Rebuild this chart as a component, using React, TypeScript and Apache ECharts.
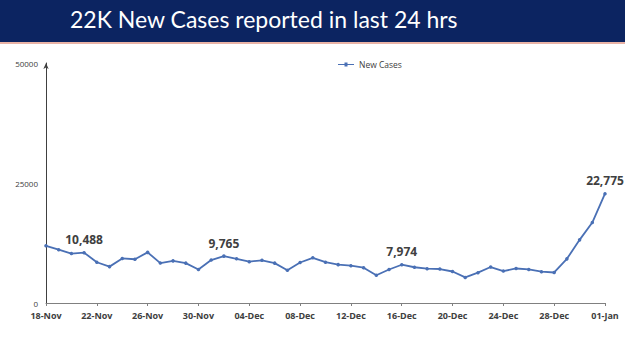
import React, { useEffect, useRef } from "react";
import * as echarts from "echarts";

const categories = [
  "18-Nov","19-Nov","20-Nov","21-Nov","22-Nov","23-Nov","24-Nov","25-Nov","26-Nov","27-Nov","28-Nov","29-Nov","30-Nov",
  "01-Dec","02-Dec","03-Dec","04-Dec","05-Dec","06-Dec","07-Dec","08-Dec","09-Dec","10-Dec","11-Dec","12-Dec","13-Dec",
  "14-Dec","15-Dec","16-Dec","17-Dec","18-Dec","19-Dec","20-Dec","21-Dec","22-Dec","23-Dec","24-Dec","25-Dec","26-Dec",
  "27-Dec","28-Dec","29-Dec","30-Dec","31-Dec","01-Jan",
];

const newCases = [
  11919, 11106, 10302, 10488, 8488, 7579, 9283, 9119, 10549, 8318, 8774, 8309, 6990,
  8954, 9765, 9216, 8603, 8895, 8306, 6822, 8439, 9419, 8503, 7992, 7774, 7350,
  5784, 6984, 7974, 7447, 7145, 7081, 6563, 5326, 6317, 7495, 6650, 7189, 6987,
  6531, 6358, 9195, 13154, 16764, 22775,
];

const labelledDays = ["21-Nov", "02-Dec", "16-Dec", "01-Jan"];

const titleText = "22K New Cases reported in last 24 hrs";
const seriesName = "New Cases";

export default function App() {
  const ref = useRef<HTMLDivElement>(null);

  useEffect(() => {
    document.body.style.margin = "0";
    const chart = echarts.init(ref.current!, undefined, { renderer: "svg" });
    const fmt = (v: number) => v.toLocaleString("en-US");
    chart.setOption({
      animation: false,
      backgroundColor: "#ffffff",
      graphic: [
        { type: "rect", left: 0, top: 0, shape: { width: 625, height: 42 }, style: { fill: "#0c2461" }, z: 10 },
        { type: "rect", left: 0, top: 42, shape: { width: 625, height: 2 }, style: { fill: "#e9b3a6" }, z: 10 },
        {
          type: "text",
          left: 70,
          top: 7,
          z: 11,
          style: { text: titleText, fill: "#ffffff", font: "23px Lato" },
        },
      ],
      legend: {
        data: [seriesName],
        top: 55,
        left: 333,
        itemWidth: 16,
        itemHeight: 4,
        itemGap: 3,
        icon: "path://M0,1.5 L6.5,1.5 L6.5,0 L9.5,0 L9.5,1.5 L16,1.5 L16,2.5 L9.5,2.5 L9.5,4 L6.5,4 L6.5,2.5 L0,2.5 Z",
        textStyle: { fontSize: 8.5, color: "#404040", fontFamily: "Open Sans" },
      },
      grid: { left: 46, right: 20, top: 63, bottom: 48, containLabel: false },
      xAxis: {
        type: "category",
        data: categories,
        boundaryGap: false,
        axisLine: { lineStyle: { color: "#808080", width: 1 } },
        axisTick: { show: true, interval: 3, length: 3, lineStyle: { color: "#808080" } },
        axisLabel: {
          interval: 3,
          color: "#404040",
          fontSize: 9,
          fontWeight: "bold",
          fontFamily: "Open Sans",
          margin: 8,
        },
      },
      yAxis: {
        type: "value",
        min: 0,
        max: 50000,
        interval: 25000,
        splitLine: { show: false },
        axisLine: {
          show: true,
          symbol: ["none", "arrow"],
          symbolSize: [4, 6],
          lineStyle: { color: "#404040", width: 1 },
        },
        axisTick: { show: false },
        axisLabel: {
          color: "#404040",
          fontSize: 8,
          fontFamily: "Open Sans",
          margin: 8,
          formatter: (v: number) => String(v),
        },
      },
      series: [
        {
          name: seriesName,
          type: "line",
          data: newCases.map((v, i) => ({
            value: v,
            label: {
              show: labelledDays.includes(categories[i]),
              position: "top",
              distance: 5,
              formatter: () => fmt(v),
              color: "#404040",
              fontSize: 12,
              fontWeight: "bold",
              fontFamily: "Open Sans",
            },
          })),
          symbol: "circle",
          symbolSize: 3.5,
          itemStyle: { color: "#4a70b5" },
          lineStyle: { color: "#4a70b5", width: 1.8 },
        },
      ],
    });
    return () => chart.dispose();
  }, []);

  return <div ref={ref} style={{ width: 625, height: 351 }} />;
}
